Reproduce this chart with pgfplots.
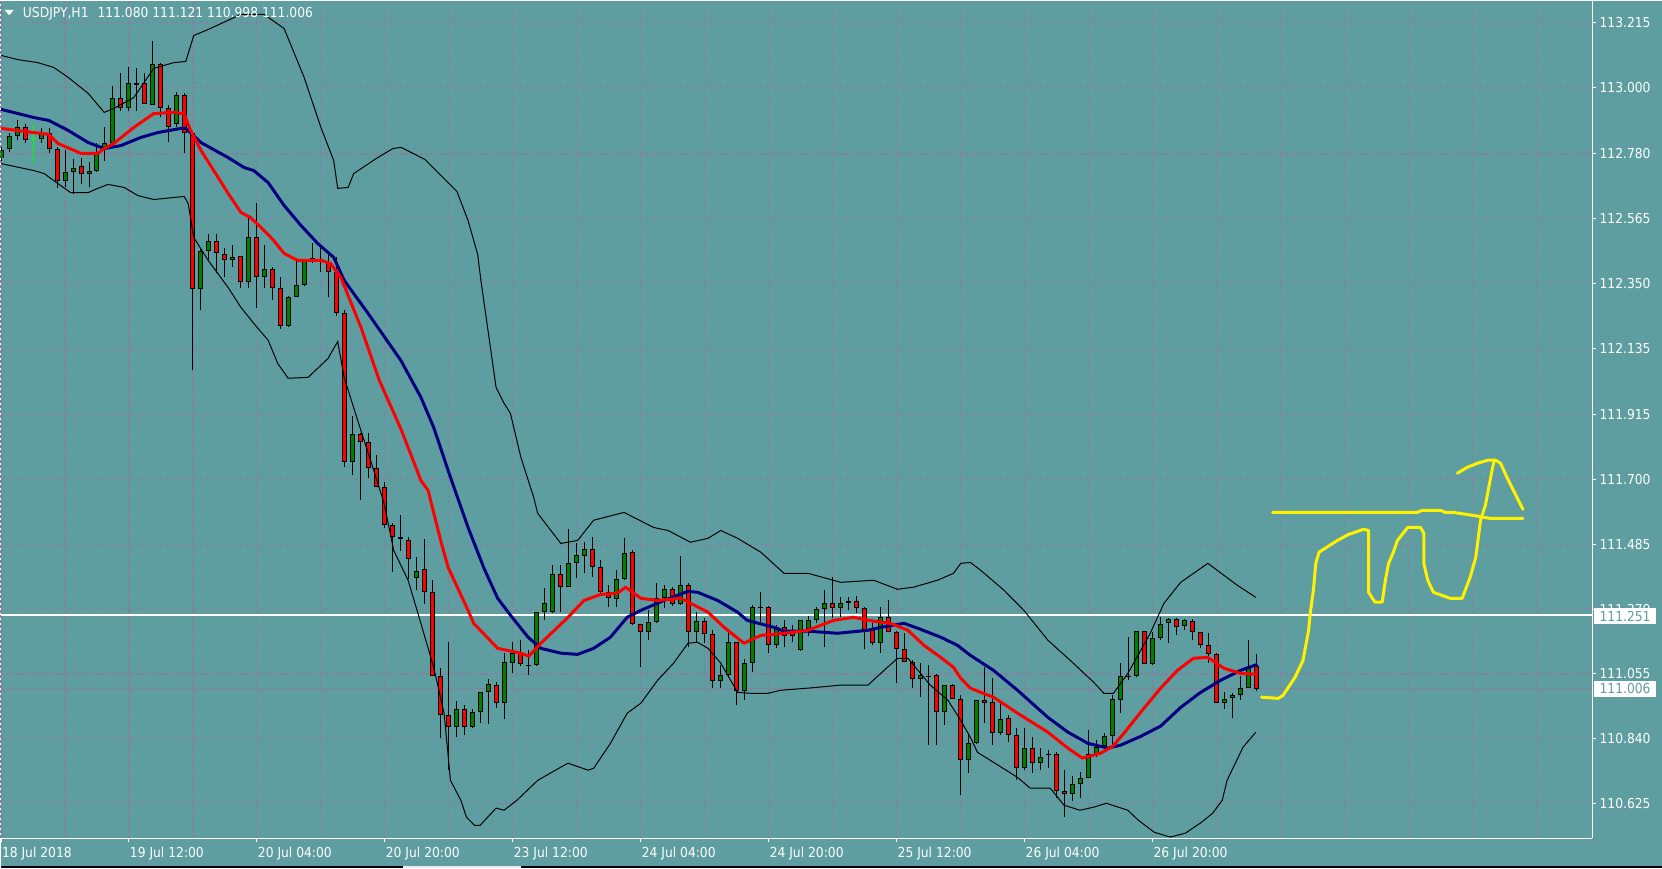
\documentclass[border=0pt]{standalone}
\usepackage{pgfplots}
\pgfplotsset{compat=1.18}
\usepackage{pgfplotstable}
\usepackage{fontspec}
\setmainfont{DejaVu Sans Condensed}
\definecolor{bgc}{RGB}{95,158,160}
\definecolor{gridc}{RGB}{138,126,158}
\definecolor{bullc}{RGB}{0,128,0}
\definecolor{bearc}{RGB}{255,0,0}
\definecolor{mablue}{RGB}{0,0,128}
\newcommand\lbl{\fontsize{6.85}{8}\selectfont}
\pgfplotsset{candle/.style={forget plot, draw=none, mark=none, error bars/.cd, y dir=plus, y explicit, error mark=none}}

\pgfplotstableread{
i o h l c
0 112.765 112.802 112.758 112.792
1 112.798 112.848 112.785 112.838
2 112.838 112.894 112.825 112.868
5 112.831 112.865 112.818 112.851
8 112.689 112.792 112.669 112.719
9 112.719 112.765 112.646 112.735
11 112.715 112.752 112.669 112.725
12 112.722 112.818 112.719 112.782
13 112.795 112.868 112.758 112.815
14 112.815 113.007 112.808 112.967
16 112.931 113.067 112.924 113.014
19 112.944 113.156 112.941 113.080
22 112.878 112.987 112.868 112.974
25 112.331 112.467 112.261 112.457
26 112.457 112.513 112.427 112.490
29 112.427 112.477 112.404 112.437
31 112.354 112.576 112.337 112.506
33 112.371 112.477 112.337 112.400
36 112.211 112.310 112.205 112.307
37 112.307 112.427 112.304 112.344
38 112.344 112.433 112.341 112.433
39 112.431 112.486 112.417 112.434
44 111.757 111.910 111.714 111.850
52 111.372 111.442 111.333 111.396
57 110.878 110.964 110.845 110.938
59 110.878 110.938 110.875 110.928
60 110.928 110.994 110.891 110.994
61 110.994 111.037 110.888 111.021
63 110.958 111.124 110.905 111.094
64 111.091 111.160 111.057 111.124
66 111.083 111.134 111.051 111.086
67 111.084 111.260 111.081 111.260
68 111.260 111.339 111.233 111.290
69 111.260 111.416 111.256 111.386
71 111.343 111.535 111.343 111.422
72 111.422 111.488 111.372 111.449
73 111.445 111.492 111.389 111.469
77 111.303 111.399 111.276 111.369
78 111.369 111.505 111.366 111.455
81 111.193 111.266 111.167 111.226
82 111.226 111.356 111.223 111.306
83 111.306 111.349 111.273 111.336
85 111.286 111.445 111.283 111.349
87 111.193 111.260 111.157 111.230
90 111.031 111.084 111.008 111.051
91 111.051 111.193 111.044 111.160
93 110.998 111.104 110.968 111.091
94 111.091 111.283 111.061 111.276
95 111.275 111.326 111.226 111.278
97 111.150 111.217 111.140 111.210
100 111.134 111.233 111.130 111.233
101 111.203 111.246 111.180 111.233
102 111.233 111.276 111.223 111.270
103 111.270 111.333 111.144 111.290
105 111.273 111.309 111.243 111.290
106 111.290 111.309 111.266 111.296
110 111.157 111.276 111.124 111.243
115 111.037 111.091 110.978 111.051
116 111.046 111.084 110.819 111.049
118 110.928 111.018 110.885 111.018
121 110.769 110.858 110.726 110.825
122 110.825 110.968 110.822 110.968
125 110.858 110.961 110.852 110.905
128 110.742 110.875 110.736 110.809
130 110.759 110.809 110.736 110.779
131 110.788 110.802 110.742 110.791
134 110.656 110.716 110.633 110.689
135 110.689 110.729 110.643 110.709
136 110.709 110.868 110.709 110.789
137 110.789 110.835 110.779 110.812
138 110.815 110.858 110.809 110.848
139 110.848 110.984 110.819 110.971
140 110.968 111.091 110.925 111.047
141 111.046 111.177 111.034 111.049
142 111.047 111.197 111.044 111.197
144 111.087 111.193 111.084 111.173
145 111.173 111.243 111.167 111.220
146 111.223 111.240 111.157 111.236
148 111.213 111.236 111.200 111.233
153 110.958 110.994 110.938 110.971
154 110.974 110.991 110.908 110.984
155 110.984 111.047 110.968 111.008
156 111.008 111.167 111.008 111.077
}\bull

\pgfplotstableread{
i o h l c
3 112.868 112.881 112.818 112.828
6 112.851 112.865 112.782 112.795
7 112.795 112.802 112.666 112.689
10 112.739 112.768 112.679 112.715
15 112.967 113.047 112.924 112.931
17 113.014 113.064 112.924 113.010
18 113.017 113.050 112.947 112.947
20 113.080 113.083 112.901 112.934
21 112.934 112.941 112.821 112.868
23 112.974 112.981 112.782 112.851
24 112.851 112.851 112.062 112.331
27 112.490 112.513 112.384 112.450
28 112.447 112.467 112.371 112.427
30 112.440 112.440 112.337 112.354
32 112.506 112.616 112.268 112.371
34 112.400 112.404 112.294 112.337
35 112.337 112.371 112.201 112.211
40 112.433 112.467 112.387 112.423
41 112.420 112.450 112.304 112.387
42 112.387 112.437 112.244 112.251
43 112.254 112.261 111.740 111.757
45 111.850 111.853 111.631 111.823
46 111.823 111.853 111.704 111.737
47 111.737 111.780 111.674 111.674
48 111.674 111.691 111.538 111.548
49 111.548 111.555 111.392 111.508
50 111.508 111.581 111.462 111.502
51 111.498 111.508 111.369 111.435
53 111.402 111.502 111.286 111.326
54 111.326 111.366 111.047 111.047
55 111.047 111.074 110.842 110.918
56 110.918 111.160 110.736 110.878
58 110.938 110.951 110.852 110.878
62 111.018 111.027 110.941 110.958
65 111.124 111.167 111.081 111.087
70 111.386 111.416 111.260 111.343
74 111.469 111.508 111.376 111.409
75 111.409 111.432 111.323 111.326
76 111.326 111.349 111.276 111.306
79 111.459 111.465 111.217 111.220
80 111.220 111.222 111.077 111.193
84 111.336 111.343 111.280 111.286
86 111.349 111.356 111.144 111.193
88 111.230 111.240 111.157 111.187
89 111.187 111.200 111.008 111.031
92 111.160 111.160 110.951 110.998
96 111.276 111.280 111.124 111.150
98 111.210 111.233 111.144 111.180
99 111.193 111.217 111.160 111.180
104 111.290 111.376 111.240 111.273
107 111.296 111.313 111.256 111.273
108 111.273 111.276 111.137 111.200
109 111.200 111.223 111.150 111.157
111 111.243 111.299 111.193 111.193
112 111.193 111.197 111.024 111.137
113 111.137 111.190 111.094 111.094
114 111.094 111.100 111.008 111.037
117 111.051 111.054 110.819 110.928
119 111.018 111.021 110.971 110.971
120 110.971 110.984 110.653 110.769
123 110.968 111.077 110.891 110.958
124 110.961 111.041 110.819 110.858
126 110.908 110.918 110.829 110.852
127 110.852 110.875 110.703 110.742
129 110.809 110.845 110.726 110.759
132 110.789 110.795 110.643 110.666
133 110.666 110.736 110.580 110.656
143 111.197 111.197 111.087 111.087
147 111.236 111.240 111.183 111.210
149 111.230 111.236 111.167 111.193
150 111.193 111.193 111.140 111.150
151 111.150 111.190 111.091 111.120
152 111.120 111.124 110.958 110.958
157 111.080 111.121 110.998 111.006
}\bear

\pgfplotstableread{
i o h l c
4 112.830 112.875 112.749 112.833
}\doji

\begin{document}
\begin{tikzpicture}
\fill[bgc] (0,0) rectangle (831pt,434pt);
\fill[black] (0,0) rectangle (831pt,1pt);
\fill[white!85!gray] (201.5pt,0) rectangle (260.5pt,1pt);
\begin{axis}[
  at={(0pt,15pt)}, anchor=south west, scale only axis,
  width=796pt, height=419pt,
  xmin=-0.06, xmax=198.94, ymin=110.510, ymax=113.289,
  axis x line=bottom, axis y line=right,
  every outer x axis line/.append style={-},
  every outer y axis line/.append style={-},
  axis line style={white, line width=0.5pt, -},
  tick align=outside, major tick length=2pt, minor tick length=0pt,
  tick style={white, line width=0.5pt},
  xtick={0,16,...,144},
  xticklabels={18 Jul 2018,19 Jul 12:00,20 Jul 04:00,20 Jul 20:00,23 Jul 12:00,24 Jul 04:00,24 Jul 20:00,25 Jul 12:00,26 Jul 04:00,26 Jul 20:00},
  minor xtick={8,16,...,192},
  ytick={113.215,113.000,112.780,112.565,112.350,112.135,111.915,111.700,111.485,111.270,111.055,110.840,110.625},
  yticklabels={113.215,113.000,112.780,112.565,112.350,112.135,111.915,111.700,111.485,111.270,111.055,110.840,110.625},
  xmajorgrids, xminorgrids, ymajorgrids,
  major grid style={gridc, line width=0.55pt, dash pattern=on 1.5pt off 1pt},
  minor grid style={gridc, line width=0.55pt, dash pattern=on 1.5pt off 1pt},
  xticklabel style={font=\lbl, text=white, anchor=north west, inner sep=0pt, xshift=0.3pt, yshift=-2.3pt},
  yticklabel style={font=\lbl, text=white, anchor=west, inner sep=0pt, xshift=1.6pt},
]
% reference lines
\addplot[gridc, line width=0.5pt, forget plot] coordinates {(-0.06,111.006) (198.94,111.006)};
\addplot[white, line width=1pt, forget plot] coordinates {(-0.06,111.251) (198.94,111.251)};

% wicks
\addplot[candle, error bar style={draw=black, line width=0.5pt}]
  table[x=i, y=l, y error expr={\thisrow{h}-\thisrow{l}}] {\bull};
\addplot[candle, error bar style={draw=black, line width=0.5pt}]
  table[x=i, y=l, y error expr={\thisrow{h}-\thisrow{l}}] {\bear};
\addplot[candle, error bar style={draw=green, line width=0.5pt}]
  table[x=i, y=l, y error expr={\thisrow{h}-\thisrow{l}}] {\doji};
% bodies outline
\addplot[candle, error bar style={draw=black, line width=2.5pt}]
  table[x=i, y=o, y error expr={\thisrow{c}-\thisrow{o}}] {\bull};
\addplot[candle, error bar style={draw=black, line width=2.5pt}]
  table[x=i, y=c, y error expr={\thisrow{o}-\thisrow{c}}] {\bear};
\addplot[candle, error bar style={draw=green, line width=2.5pt}]
  table[x=i, y=o, y error expr={\thisrow{c}-\thisrow{o}}] {\doji};
% bodies fill
\addplot[candle, error bar style={draw=bullc, line width=1.5pt}]
  table[x=i, y expr={\thisrow{o}+0.0033}, y error expr={max(\thisrow{c}-\thisrow{o}-0.0066,0)}] {\bull};
\addplot[candle, error bar style={draw=bearc, line width=1.5pt}]
  table[x=i, y expr={\thisrow{c}+0.0033}, y error expr={max(\thisrow{o}-\thisrow{c}-0.0066,0)}] {\bear};

% Bollinger bands
\addplot[black, line width=0.5pt] coordinates {
(0,113.107)(2.1,113.093)(4.6,113.083)(6.6,113.067)(8.4,113.034)(10.9,112.981)(12.9,112.918)(14.1,112.931)(16.6,112.967)(19.1,113.064)(21.6,113.083)(23.1,113.087)(24.1,113.173)(25.9,113.193)(30,113.243)(32.9,113.243)(35.4,113.196)(37.9,113.034)(40,112.868)(41.6,112.758)(42.1,112.666)(43.4,112.669)(44.1,112.715)(47.1,112.768)(49,112.798)(50,112.802)(53,112.762)(57,112.656)(58.4,112.559)(59.6,112.447)(60,112.361)(61.9,112.006)(62.9,111.953)(63.7,111.919)(65,111.774)(66.6,111.641)(67.1,111.588)(70,111.488)(72.1,111.498)(74.1,111.565)(77.9,111.591)(81.6,111.541)(83.4,111.531)(86.2,111.492)(88.4,111.505)(90,111.531)(92.1,111.505)(95,111.459)(97.9,111.389)(100.9,111.389)(105,111.359)(109.1,111.366)(112.1,111.336)(114.1,111.343)(117.1,111.366)(119.1,111.389)(120,111.422)(121.2,111.425)(122.5,111.399)(125.4,111.333)(127.9,111.266)(130.9,111.167)(133.7,111.100)(136.6,111.028)(137.9,110.991)(139.1,110.991)(140.9,111.057)(143.7,111.190)(145.4,111.289)(147.5,111.359)(150.9,111.422)(154.6,111.349)(156.9,111.309)};
\addplot[black, line width=0.5pt] coordinates {
(0,112.748)(4.1,112.725)(5.4,112.715)(7.1,112.682)(8.7,112.652)(10.9,112.652)(12.1,112.666)(13.4,112.679)(15.4,112.669)(17.1,112.642)(19.1,112.629)(22.9,112.639)(23.4,112.616)(24.1,112.503)(25.9,112.427)(28.4,112.337)(30,112.271)(31.6,112.218)(33.4,112.162)(34.6,112.085)(35.9,112.036)(38.4,112.039)(40.9,112.102)(42.1,112.158)(42.9,112.039)(44.6,111.896)(46.6,111.731)(47.9,111.621)(49.1,111.465)(50.9,111.366)(52.5,111.223)(54.1,111.077)(55.4,110.925)(56.2,110.702)(57.5,110.636)(58.2,110.580)(59.2,110.553)(59.9,110.553)(61.9,110.610)(62.9,110.603)(64.5,110.636)(67.1,110.702)(70,110.746)(70.9,110.759)(73.4,110.736)(74.1,110.742)(76.2,110.825)(78.3,110.925)(80,110.958)(82.1,111.034)(84.1,111.091)(85.9,111.157)(87.1,111.160)(88.4,111.140)(90,111.091)(92.1,110.994)(93.7,110.991)(95.9,110.991)(97.5,111.001)(100.9,111.008)(105,111.018)(108.4,111.018)(110,111.057)(112.1,111.107)(113.4,111.107)(116.2,111.018)(118.4,110.968)(120,110.901)(121.2,110.845)(122.1,110.795)(124.1,110.762)(127.1,110.712)(128.7,110.676)(131.2,110.676)(132.9,110.620)(134.9,110.603)(136.6,110.613)(138.2,110.626)(140.9,110.603)(142.2,110.570)(144.2,110.530)(146.2,110.514)(148.1,110.527)(150.1,110.563)(151.5,110.593)(152.7,110.636)(153.3,110.702)(155.3,110.812)(156.9,110.862)};

% slow MA (blue)
\addplot[mablue, line width=1.5pt, line join=round] coordinates {
(0,112.928)(4.1,112.901)(6,112.891)(8.4,112.858)(10.9,112.818)(12.9,112.798)(15,112.808)(17.5,112.835)(19.6,112.851)(22.5,112.865)(23.1,112.865)(25,112.818)(28.4,112.768)(30.4,112.735)(31.6,112.725)(33.4,112.685)(35.4,112.609)(37.5,112.543)(39.6,112.483)(41.6,112.437)(42.9,112.361)(45.9,112.251)(50,112.095)(52.5,111.973)(54.1,111.873)(56.2,111.707)(58.4,111.541)(60.4,111.405)(62.1,111.306)(63.7,111.250)(65.9,111.177)(67.5,111.140)(70,111.124)(72.1,111.120)(74.1,111.140)(76.2,111.177)(78.3,111.243)(80,111.266)(82.9,111.299)(85.9,111.329)(87.1,111.326)(89.6,111.299)(92.1,111.260)(93.3,111.233)(96.6,111.210)(97.9,111.197)(100.9,111.197)(104.6,111.190)(108.4,111.200)(110,111.210)(111.6,111.217)(112.9,111.223)(114.6,111.207)(117.5,111.177)(119.6,111.150)(121.2,111.117)(124.1,111.067)(127.1,111.001)(130.9,110.911)(133.4,110.862)(135.9,110.825)(138.4,110.809)(140,110.819)(142.5,110.848)(145,110.882)(147.5,110.944)(150,110.994)(152.5,111.034)(155,111.067)(157.1,111.087)};
% fast MA (red)
\addplot[bearc, line width=1.5pt, line join=round] coordinates {
(0,112.865)(4.1,112.851)(6,112.845)(7.1,112.815)(10,112.782)(12.1,112.782)(12.9,112.798)(14.1,112.815)(16.6,112.868)(18.4,112.901)(19.1,112.914)(21.6,112.918)(22.9,112.914)(23.7,112.858)(25,112.792)(26.6,112.725)(28.4,112.649)(30,112.586)(31.2,112.569)(32.9,112.526)(34.1,112.493)(35.4,112.450)(37.1,112.427)(40,112.427)(41.2,112.417)(42.5,112.370)(45,112.205)(47.3,112.029)(50,111.868)(52.5,111.697)(53.4,111.664)(55,111.495)(55.9,111.409)(58.4,111.266)(59.1,111.223)(62.1,111.140)(65,111.124)(66,111.114)(67.5,111.157)(70.9,111.243)(72.9,111.299)(75,111.319)(77.1,111.323)(78.1,111.343)(80,111.306)(82.1,111.299)(85,111.306)(88.4,111.260)(90.4,111.210)(92.9,111.157)(95,111.183)(97.9,111.190)(100.9,111.200)(104.1,111.233)(106.6,111.243)(109.1,111.230)(111.2,111.223)(113.4,111.200)(115.4,111.150)(117.5,111.110)(119.1,111.077)(120,111.041)(121.2,111.008)(122.5,110.994)(124.1,110.978)(127.1,110.925)(130.9,110.862)(133.4,110.809)(135.2,110.776)(137.5,110.792)(139,110.815)(140.4,110.858)(142.5,110.928)(145,111.008)(147.1,111.067)(149.1,111.107)(150.9,111.110)(152.9,111.074)(155,111.057)(157.1,111.054)};

% hand drawn yellow annotation
\addplot[yellow, line width=1.5pt, line join=round, line cap=round] coordinates {
(157.6,110.978)(159.7,110.974)(160.3,110.984)(161.8,111.044)(162.8,111.100)(163.5,111.200)(163.7,111.256)(164.1,111.333)(164.4,111.422)(164.8,111.459)(167.1,111.498)(168.5,111.518)(170.4,111.535)(171,111.531)(171,111.399)(171,111.326)(171.8,111.293)(172.7,111.293)(173.1,111.366)(173.5,111.422)(174.1,111.459)(174.6,111.498)(175.9,111.541)(177.5,111.541)(177.9,111.522)(177.9,111.422)(178.4,111.366)(179.1,111.326)(181.2,111.306)(182.7,111.306)(183.7,111.376)(184.4,111.442)(185,111.565)(185.6,111.614)(186.5,111.740)(186.7,111.760)};
\addplot[yellow, line width=1.5pt, line join=round, line cap=round] coordinates {
(182.1,111.721)(183.3,111.740)(184.6,111.754)(185.9,111.764)(186.9,111.764)(187.5,111.754)(188.3,111.707)(190.3,111.601)};
\addplot[yellow, line width=1.5pt, line join=round, line cap=round] coordinates {
(159,111.591)(177.1,111.591)(177.7,111.598)(180,111.598)(180.6,111.591)(181.6,111.591)(184.1,111.581)(186.2,111.571)(190.3,111.571)};
\end{axis}
% header and price boxes
\fill[white] (2pt,429.35pt) -- (6.65pt,429.35pt) -- (4.33pt,426.65pt) -- cycle;
\node[anchor=base west, text=white, font=\lbl, inner sep=0pt] at (11pt,425.7pt) {USDJPY,H1\hspace{4.5pt}111.080 111.121 110.998 111.006};
\node[fill=white, text=bgc, font=\lbl, inner xsep=2.6pt, inner ysep=0pt, minimum height=8pt, anchor=west] at (797pt,126pt) {111.251};
\node[fill=white, text=bgc, font=\lbl, inner xsep=2.6pt, inner ysep=0pt, minimum height=8pt, anchor=west] at (797pt,89.8pt) {111.006};
\end{tikzpicture}
\end{document}
